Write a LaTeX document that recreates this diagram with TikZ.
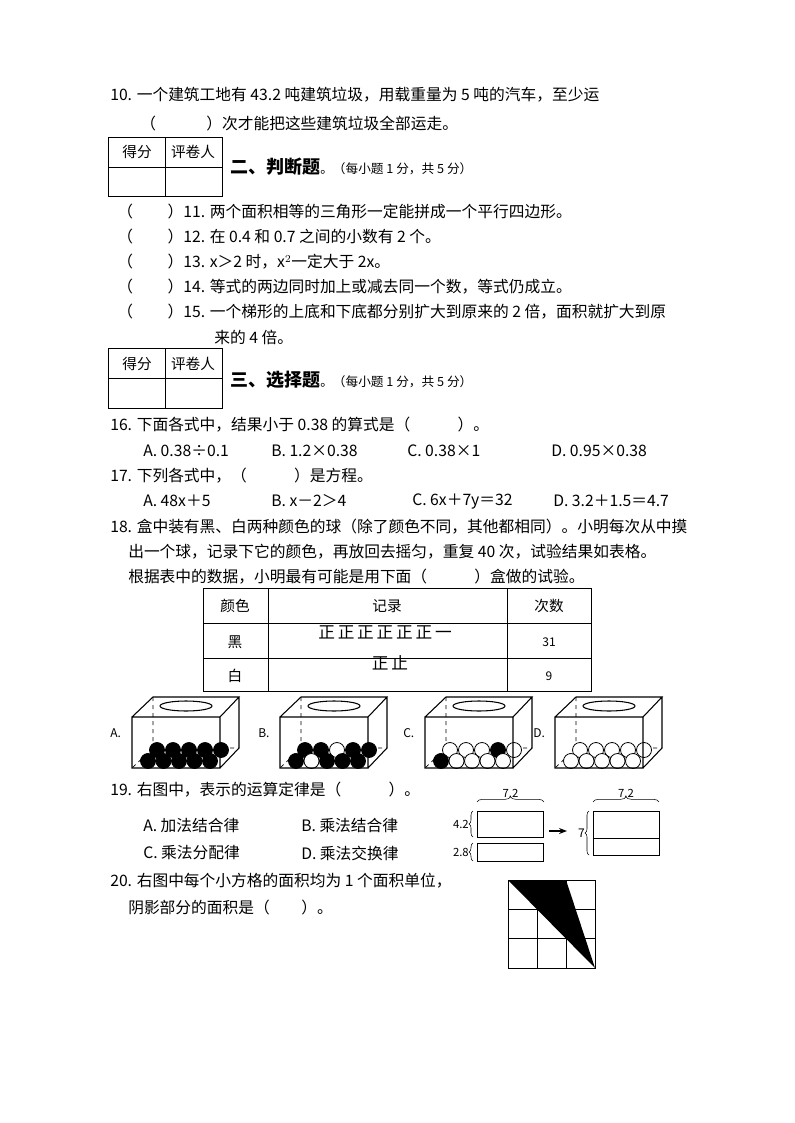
\documentclass[tikz,border=0pt]{standalone}
\usepackage{fontspec}
\setmainfont{Noto Sans CJK SC}
\usetikzlibrary{decorations.pathreplacing,arrows.meta}
\begin{document}
\begin{tikzpicture}[x=0.75pt,y=-0.75pt,
  t/.style={anchor=west,inner sep=0pt,font=\fontsize{11.8}{13}\selectfont},
  ct/.style={inner sep=0pt,font=\fontsize{11}{12}\selectfont},
  ln/.style={line width=0.7pt},
  blk/.style={fill=black,draw=black,line width=0.6pt},
  wht/.style={fill=white,draw=black,line width=0.6pt}]
\useasboundingbox[fill=white] (0,0) rectangle (794,1123);
% Q10
\node[t] (q10a) at (110,95) {10. 一个建筑工地有 43.2 吨建筑垃圾，用载重量为 5 吨的汽车，至少运};
\node[t] (q10b) at (140,124) {（\hspace{3.2em}）次才能把这些建筑垃圾全部运走。};
% score table 1
\draw[ln] (108,137) rectangle (222,196) (165,137)--(165,196) (108,167)--(222,167);
\node[ct] (s1a) at (137,152) {得分}; \node[ct] (s1b) at (193,152) {评卷人};
\node[anchor=west,inner sep=0pt] (h2) at (230,167) {{\fontsize{13.5}{15}\selectfont\bfseries 二、判断题}{\fontsize{9.5}{11}\selectfont 。（每小题 1 分，共 5 分）}};
% judgement
\node[t] (j11) at (117,212) {（\hspace{2.2em}）11. 两个面积相等的三角形一定能拼成一个平行四边形。};
\node[t] (j12) at (117,237) {（\hspace{2.2em}）12. 在 0.4 和 0.7 之间的小数有 2 个。};
\node[t] (j13) at (117,262) {（\hspace{2.2em}）13. x＞2 时，x$^2$一定大于 2x。};
\node[t] (j14) at (117,287) {（\hspace{2.2em}）14. 等式的两边同时加上或减去同一个数，等式仍成立。};
\node[t] (j15) at (117,312) {（\hspace{2.2em}）15. 一个梯形的上底和下底都分别扩大到原来的 2 倍，面积就扩大到原};
\node[t] (j15b) at (214,337) {来的 4 倍。};
% score table 2
\draw[ln] (108,348) rectangle (222,408) (165,348)--(165,408) (108,378)--(222,378);
\node[ct] (s2a) at (137,364) {得分}; \node[ct] (s2b) at (193,364) {评卷人};
\node[anchor=west,inner sep=0pt] (h3) at (230,380) {{\fontsize{13.5}{15}\selectfont\bfseries 三、选择题}{\fontsize{9.5}{11}\selectfont 。（每小题 1 分，共 5 分）}};
% Q16
\node[t] (q16) at (110,425) {16. 下面各式中，结果小于 0.38 的算式是（\hspace{3em}）。};
\node[t] (q16a) at (143,451) {A. 0.38÷0.1}; \node[t] (q16b) at (271,451) {B. 1.2×0.38};
\node[t] (q16c) at (407,451) {C. 0.38×1}; \node[t] (q16d) at (551,451) {D. 0.95×0.38};
% Q17
\node[t] (q17) at (110,476) {17. 下列各式中，（\hspace{3em}）是方程。};
\node[t] (q17a) at (143,501) {A. 48x＋5}; \node[t] (q17b) at (271,501) {B. x－2＞4};
\node[t] (q17c) at (412,501) {C. 6x＋7y＝32}; \node[t] (q17d) at (553,501) {D. 3.2＋1.5＝4.7};
% Q18
\node[t] (q18a) at (110,527) {18. 盒中装有黑、白两种颜色的球（除了颜色不同，其他都相同）。小明每次从中摸};
\node[t] (q18b) at (128,552) {出一个球，记录下它的颜色，再放回去摇匀，重复 40 次，试验结果如表格。};
\node[t] (q18c) at (128,577) {根据表中的数据，小明最有可能是用下面（\hspace{3em}）盒做的试验。};
\draw[ln] (203,588) rectangle (591,691) (268,588)--(268,691) (507,588)--(507,691) (203,623)--(591,623) (203,658)--(591,658);
\node[ct] (c1) at (235,606) {颜色}; \node[ct] (c2) at (387,606) {记录}; \node[ct] (c3) at (549,606) {次数};
\node[ct] (r1a) at (235,642) {黑}; \node[ct,font=\fontsize{12.5}{13}\selectfont] (r1b) at (385,632) {正\,正\,正\,正\,正\,正\,一}; \node[ct,font=\fontsize{9}{11}\selectfont] (r1c) at (549,642) {31};
\node[ct] (r2a) at (235,676) {白}; \node[ct,font=\fontsize{12.5}{13}\selectfont] (r2b) at (390,663) {正\,止}; \node[ct,font=\fontsize{9}{11}\selectfont] (r2c) at (549,676) {9};
% boxes
\foreach \dx/\lab/\bk/\fr in {0/A/{1,1,1,1,1}/{1,1,1,1,1},148/B/{1,1,0,1,1}/{1,0,1,1,1},293/C/{0,0,0,1,0}/{1,0,0,0,0},423/D/{0,0,0,0,0}/{0,0,0,0,0}}{
  \begin{scope}[xshift=\dx*0.75pt]
  \draw[line width=0.6pt,dashed] (153,697)--(153,748)--(239,748) (153,748)--(132,768);
  \foreach \c [count=\i from 0] in \bk {\ifnum\c=1 \draw[blk] (157+16*\i,750) circle (7.5); \else \draw[wht] (157+16*\i,750) circle (7.5); \fi}
  \foreach \c [count=\i from 0] in \fr {\ifnum\c=1 \draw[blk] (148+15.5*\i,761) circle (7.5); \else \draw[wht] (148+15.5*\i,761) circle (7.5); \fi}
  \draw[line width=0.8pt] (132,717) rectangle (220,768) (132,717)--(153,697)--(239,697)--(220,717) (239,697)--(239,748)--(220,768);
  \draw[line width=0.8pt] (186,706) ellipse (26 and 5);
  \node[anchor=west,inner sep=0pt,font=\fontsize{9}{11}\selectfont] at (110,733) {\lab.};
  \end{scope}}
% Q19
\node[t] (q19) at (110,790) {19. 右图中，表示的运算定律是（\hspace{3em}）。};
\node[t] (q19a) at (143,825) {A. 加法结合律}; \node[t] (q19b) at (301,825) {B. 乘法结合律};
\node[t] (q19c) at (143,853) {C. 乘法分配律}; \node[t] (q19d) at (301,853) {D. 乘法交换律};
\node[draw,line width=0.7pt,minimum width=50pt,minimum height=19.5pt,inner sep=0] (ra) at (510.5,824) {};
\node[draw,line width=0.7pt,minimum width=50pt,minimum height=13.5pt,inner sep=0] (rb) at (510.5,852) {};
\draw[decorate,decoration={brace,amplitude=4pt}] (477,802)--(544,802) node[midway,above=3pt,font=\fontsize{8.5}{9}\selectfont,inner sep=0] (l72a) {7.2};
\draw[decorate,decoration={brace,amplitude=3pt}] (473,837)--(473,811) node[midway,left=3pt,font=\fontsize{8.5}{9}\selectfont,inner sep=0] (l42) {4.2};
\draw[decorate,decoration={brace,amplitude=3pt}] (473,861)--(473,843) node[midway,left=3pt,font=\fontsize{8.5}{9}\selectfont,inner sep=0] (l28) {2.8};
\node[draw,line width=0.7pt,minimum width=49.5pt,minimum height=33pt,inner sep=0] (rc) at (626,833) {};
\draw[line width=0.7pt] (rc.west |- 0,838)--(rc.east |- 0,838);
\draw[decorate,decoration={brace,amplitude=4pt}] (593,802)--(659,802) node[midway,above=3pt,font=\fontsize{8.5}{9}\selectfont,inner sep=0] (l72b) {7.2};
\draw[decorate,decoration={brace,amplitude=3pt}] (589,855)--(589,811) node[midway,left=3pt,font=\fontsize{9}{9}\selectfont,inner sep=0] (l7) {7};
\draw[line width=1.2pt,-{Stealth[length=6pt]}] (ra.east)+(5,7)--(567,831);
% Q20
\node[t] (q20a) at (110,881) {20. 右图中每个小方格的面积均为 1 个面积单位，};
\node[t] (q20b) at (128,908) {阴影部分的面积是（\hspace{2em}）。};
\fill (508,880)--(566,880)--(595,968)--cycle;
\draw[line width=0.7pt] (508,880) rectangle (595,968) (537,880)--(537,968) (566,880)--(566,968) (508,909.3)--(595,909.3) (508,938.7)--(595,938.7);
\end{tikzpicture}
\end{document}
